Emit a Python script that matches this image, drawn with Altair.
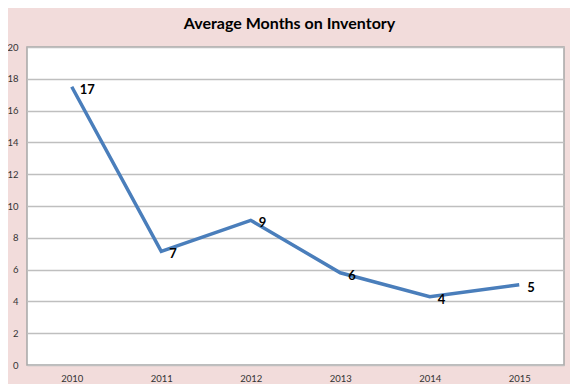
import altair as alt
import pandas as pd

years = ["2010", "2011", "2012", "2013", "2014", "2015"]
months = [17.5, 7.15, 9.1, 5.8, 4.3, 5.05]
labels = ["17", "7", "9", "6", "4", "5"]

df = pd.DataFrame({"year": years, "months": months, "label": labels})

base = alt.Chart(df).encode(
    x=alt.X("year:O", sort=years,
            scale=alt.Scale(type="point", padding=0.5),
            axis=alt.Axis(title=None, labelAngle=0, ticks=False, domain=False,
                          labelPadding=8, labelFontSize=9.5, labelColor="#333333",
                          labelFont="Lato", grid=False)),
    y=alt.Y("months:Q",
            scale=alt.Scale(domain=[0, 20], nice=False),
            axis=alt.Axis(title=None, values=list(range(0, 21, 2)), ticks=False,
                          domain=False, labelPadding=9, labelFontSize=9.5,
                          labelColor="#333333", labelFont="Lato",
                          gridColor="#BFBFBF", gridWidth=1.5)),
)

line = base.mark_line(color="#4A7EBB", strokeWidth=3.5)
text = base.mark_text(align="left", dx=8, dy=3, fontSize=13, fontWeight="bold",
                      font="Lato", color="#000000").encode(text="label:N")

chart = (line + text).properties(
    width=537,
    height=318,
    autosize=alt.AutoSizeParams(type="none"),
    padding={"left": 19, "top": 39, "right": 6, "bottom": 19},
    background="#F2DCDB",
    title=alt.TitleParams("Average Months on Inventory", fontSize=16,
                          fontWeight="bold", font="Lato", color="#000000",
                          anchor="middle", offset=10, dx=-6),
).configure_view(stroke="#A6A6A6", strokeWidth=1.5, fill="#FFFFFF")

chart.save("out.html", embed_options={"renderer": "svg", "actions": False})
